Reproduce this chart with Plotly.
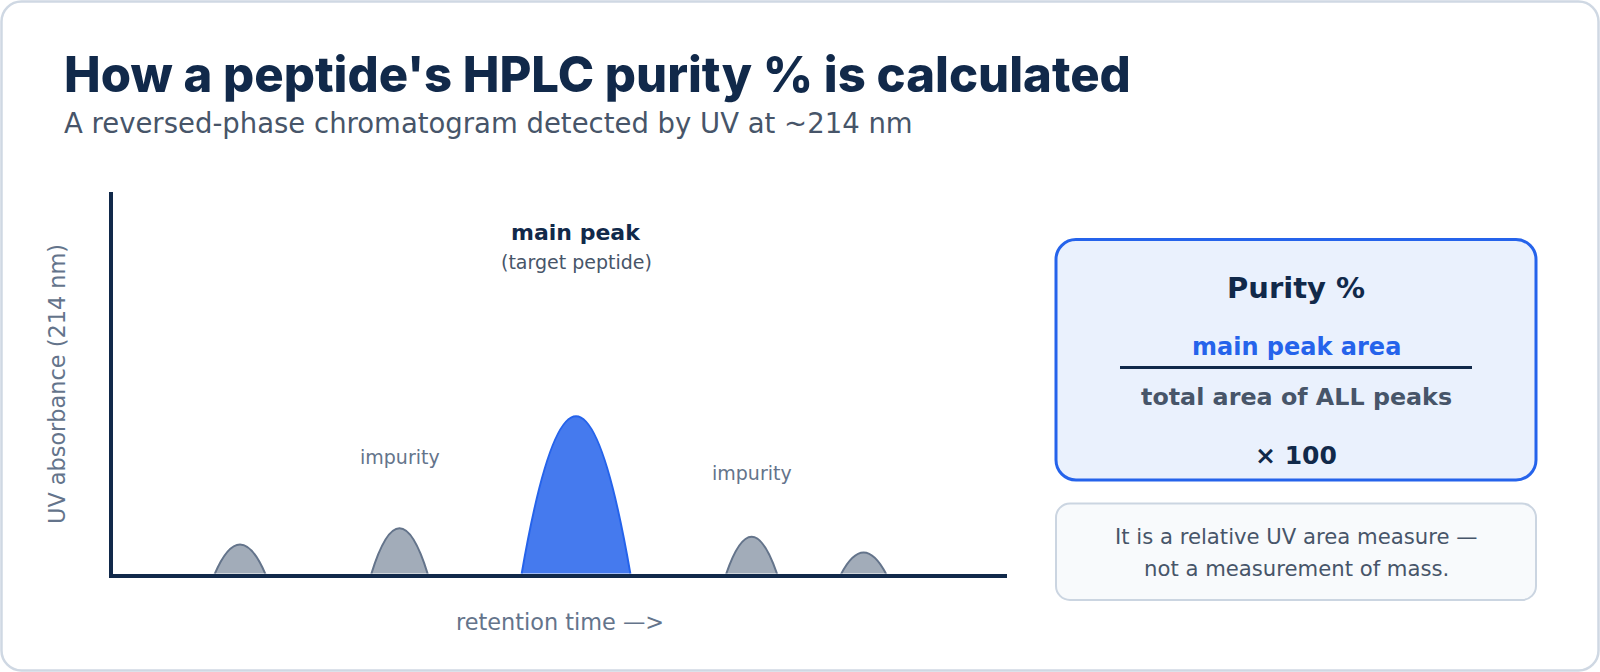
import plotly.graph_objects as go

# ---------------- data ----------------
peak_names = ["impurity A", "impurity B", "main peak", "impurity C", "impurity D"]
peak_center = [1.44, 3.22, 5.19, 7.15, 8.40]      # retention time (arb. units)
peak_height = [8.1, 12.3, 41.5, 10.1, 6.0]        # UV absorbance (arb. units)
peak_halfwidth = [0.29, 0.32, 0.61, 0.29, 0.26]
peak_is_main = [False, False, True, False, False]

X_RANGE = [0.0223, 10]
Y_RANGE = [0.52, 100]

W, H = 1600, 672
NAVY = "#11294a"
SLATE600 = "#475569"
SLATE500 = "#64748b"
BLUE = "#2563eb"
FONT = "DejaVu Sans"


def px(x):
    return x / W


def py(y):
    return 1 - y / H


def rounded_rect_path(x0, y0, x1, y1, r):
    k = 0.5523 * r
    pts = [
        f"M {px(x0 + r)},{py(y0)}",
        f"L {px(x1 - r)},{py(y0)}",
        f"C {px(x1 - r + k)},{py(y0)} {px(x1)},{py(y0 + r - k)} {px(x1)},{py(y0 + r)}",
        f"L {px(x1)},{py(y1 - r)}",
        f"C {px(x1)},{py(y1 - r + k)} {px(x1 - r + k)},{py(y1)} {px(x1 - r)},{py(y1)}",
        f"L {px(x0 + r)},{py(y1)}",
        f"C {px(x0 + r - k)},{py(y1)} {px(x0)},{py(y1 - r + k)} {px(x0)},{py(y1 - r)}",
        f"L {px(x0)},{py(y0 + r)}",
        f"C {px(x0)},{py(y0 + r - k)} {px(x0 + r - k)},{py(y0)} {px(x0 + r)},{py(y0)}",
        "Z",
    ]
    return " ".join(pts)


fig = go.Figure()

# invisible apex points for hover
fig.add_trace(go.Scatter(
    x=peak_center, y=peak_height, mode="markers",
    marker=dict(size=10, opacity=0),
    text=peak_names, hovertemplate="%{text}<extra></extra>",
    showlegend=False,
))

shapes = []
# outer card
shapes.append(dict(type="path", xref="paper", yref="paper",
                   path=rounded_rect_path(1.5, 1.5, W - 1.5, H - 1.5, 20),
                   line=dict(color="#cfd8e3", width=2.5), fillcolor="white", layer="below"))

# peaks (quadratic bezier in data coordinates)
for c, h, hw, main in zip(peak_center, peak_height, peak_halfwidth, peak_is_main):
    path = f"M {c - hw},0 Q {c},{2 * h} {c + hw},0 Z"
    if main:
        fill, line = "rgba(37,99,235,0.85)", BLUE
    else:
        fill, line = "rgba(100,116,139,0.6)", SLATE500
    shapes.append(dict(type="path", xref="x", yref="y", path=path,
                       fillcolor=fill, line=dict(color=line, width=2), layer="above"))

# purity box
shapes.append(dict(type="path", xref="paper", yref="paper",
                   path=rounded_rect_path(1056, 239.5, 1536, 480, 20),
                   line=dict(color=BLUE, width=3), fillcolor="#eaf1fd", layer="above"))
shapes.append(dict(type="line", xref="paper", yref="paper",
                   x0=px(1120), x1=px(1472), y0=py(367.5), y1=py(367.5),
                   line=dict(color=NAVY, width=3), layer="above"))
# note box
shapes.append(dict(type="path", xref="paper", yref="paper",
                   path=rounded_rect_path(1056, 503.5, 1536, 600, 14),
                   line=dict(color="#cbd5e1", width=2), fillcolor="#f8fafc", layer="above"))

ann = []


def A(text, x, y, size, color, bold=False, xref="paper", xanchor="center", family=FONT, angle=0, weight=None):
    ann.append(dict(
        text=f"<b>{text}</b>" if bold else text,
        x=x if xref != "paper" else px(x), y=py(y), xref=xref, yref="paper",
        xanchor=xanchor, yanchor="middle", showarrow=False, textangle=angle,
        font=dict(family=family, size=size, color=color, **({"weight": weight} if weight else {})),
    ))


A("How a peptide's HPLC purity % is calculated", 62, 74, 49, NAVY,
  xanchor="left", family="Inter", weight=800)
A("A reversed-phase chromatogram detected by UV at ~214 nm", 62, 123.5, 27.5, SLATE600, xanchor="left")

A("UV absorbance (214 nm)", 57, 384, 22.4, SLATE500, angle=-90)
A("retention time —>", 560, 622, 22.4, SLATE500)

main_idx = peak_is_main.index(True)
A("main peak", peak_center[main_idx], 232, 22, NAVY, bold=True, xref="x")
A("(target peptide)", peak_center[main_idx], 262, 19, SLATE600, xref="x")
A("impurity", peak_center[1], 457, 19, SLATE500, xref="x")
A("impurity", peak_center[3], 473, 19, SLATE500, xref="x")

A("Purity %", 1296, 288, 29, NAVY, bold=True)
A("main peak area", 1296, 347, 24, BLUE, bold=True)
A("total area of ALL peaks", 1296, 397, 23.8, SLATE600, bold=True)
A("× 100", 1296, 455, 25, NAVY, bold=True)
A("It is a relative UV area measure —", 1296, 536, 21.2, SLATE600)
A("not a measurement of mass.", 1296, 568, 21.2, SLATE600)

fig.update_layout(
    width=W, height=H, margin=dict(l=0, r=0, t=0, b=0),
    paper_bgcolor="white", plot_bgcolor="rgba(0,0,0,0)",
    shapes=shapes, annotations=ann, showlegend=False,
    xaxis=dict(domain=[px(113), px(1007)], range=X_RANGE, showgrid=False, zeroline=False,
               showticklabels=False, ticks="", showline=True, linecolor=NAVY, linewidth=4,
               fixedrange=True),
    yaxis=dict(domain=[py(573.5), py(192)], range=Y_RANGE, showgrid=False, zeroline=False,
               showticklabels=False, ticks="", showline=True, linecolor=NAVY, linewidth=4,
               fixedrange=True),
)

fig.write_html("out.html", config={"displayModeBar": False},
               post_script="document.body.style.margin='0px';document.body.style.overflow='hidden';")
